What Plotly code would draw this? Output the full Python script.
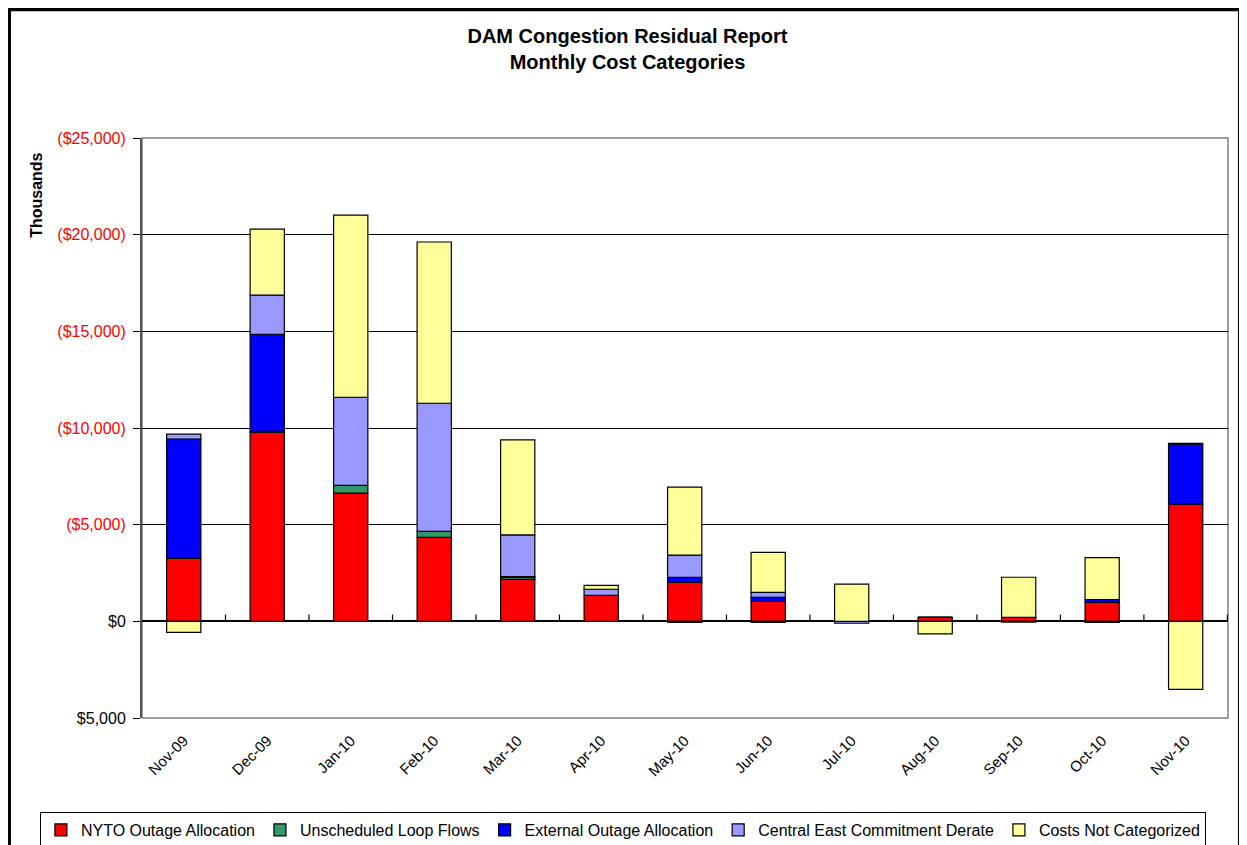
import plotly.graph_objects as go

months = ["Nov-09", "Dec-09", "Jan-10", "Feb-10", "Mar-10", "Apr-10", "May-10",
          "Jun-10", "Jul-10", "Aug-10", "Sep-10", "Oct-10", "Nov-10"]

# values in thousands of $, cost shown upward
nyto = [3260, 9780, 6630, 4350, 2170, 1350, 2020, 1040, 0, 200, 200, 980, 6060]
loop_flows = [0, 50, 410, 310, 100, 0, -50, -60, 0, 0, -40, -50, 0]
external = [6160, 5020, 0, 0, 50, 0, 260, 200, 0, 0, 0, 150, 3100]
central_east = [260, 2020, 4550, 6620, 2150, 310, 1140, 260, -100, 0, 0, 0, 50]
not_categorized = [-570, 3420, 9420, 8340, 4920, 200, 3520, 2070, 1920, -650, 2080, 2170, -3520]

series = [
    ("NYTO Outage Allocation", nyto, "#ff0000"),
    ("Unscheduled Loop Flows", loop_flows, "#339966"),
    ("External Outage Allocation", external, "#0000ff"),
    ("Central East Commitment Derate", central_east, "#9999ff"),
    ("Costs Not Categorized", not_categorized, "#ffff99"),
]

tick_vals = [-5000, 0, 5000, 10000, 15000, 20000, 25000]
tick_text = ["$5,000", "$0", "($5,000)", "($10,000)", "($15,000)", "($20,000)", "($25,000)"]

font = "Liberation Sans, Arial"

fig = go.Figure()
for name, vals, col in series:
    fig.add_trace(go.Bar(x=months, y=vals, name=name, marker_color=col,
                         marker_line=dict(color="black", width=1.2)))

ytext = [t if v <= 0 else f'<span style="color:#ff0000">{t}</span>'
         for v, t in zip(tick_vals, tick_text)]

fig.update_layout(
    barmode="relative",
    bargap=0.59,
    width=1239, height=837,
    margin=dict(l=134, r=19, t=130, b=127, autoexpand=False),
    paper_bgcolor="white", plot_bgcolor="white",
    font=dict(family=font, size=15, color="black"),
    title=dict(text="<b>DAM Congestion Residual Report<br>Monthly Cost Categories</b>",
               x=0.5, xref="container", xanchor="center", y=0.958, yanchor="middle",
               font=dict(family=font, size=20, color="black")),
    showlegend=True,
    legend=dict(orientation="h", x=-0.094, xanchor="left",
                y=-0.162, yanchor="top",
                bordercolor="black", borderwidth=1, font=dict(family=font, size=16),
                traceorder="normal", itemwidth=30, tracegroupgap=0),
    xaxis=dict(tickangle=-45, showline=False, ticks="", tickfont=dict(size=15),
               showgrid=False, ticklabelstandoff=10),
    yaxis=dict(range=[-5000, 25000], tickvals=tick_vals, ticktext=ytext,
               showgrid=True, gridcolor="black", gridwidth=1,
               zeroline=True, zerolinecolor="black", zerolinewidth=1.5,
               showline=True, linecolor="#555555", linewidth=2, ticks="outside",
               ticklen=7, tickcolor="black", tickfont=dict(size=16),
               ticklabelstandoff=4),
    annotations=[dict(text="<b>Thousands</b>", textangle=-90, x=-0.0967, xref="paper",
                      y=0.902, yref="paper", xanchor="center", yanchor="middle",
                      showarrow=False, font=dict(family=font, size=16, color="black"))],
)

# plot area frame (top & right grey)
fig.add_shape(type="rect", xref="paper", yref="paper", x0=0, x1=1, y0=0, y1=1,
              line=dict(color="#808080", width=1.5), layer="below")
# category boundary ticks on zero line
for i in range(len(months)):
    fig.add_shape(type="line", xref="x", yref="y", x0=i + 0.5, x1=i + 0.5,
                  y0=0, y1=350, line=dict(color="black", width=1.2))
# outer chart border
fig.add_shape(type="rect", xref="paper", yref="paper", x0=-0.1225, x1=1.011,
              y0=-0.3, y1=1.222, line=dict(color="black", width=4))

fig.write_html("out.html")
